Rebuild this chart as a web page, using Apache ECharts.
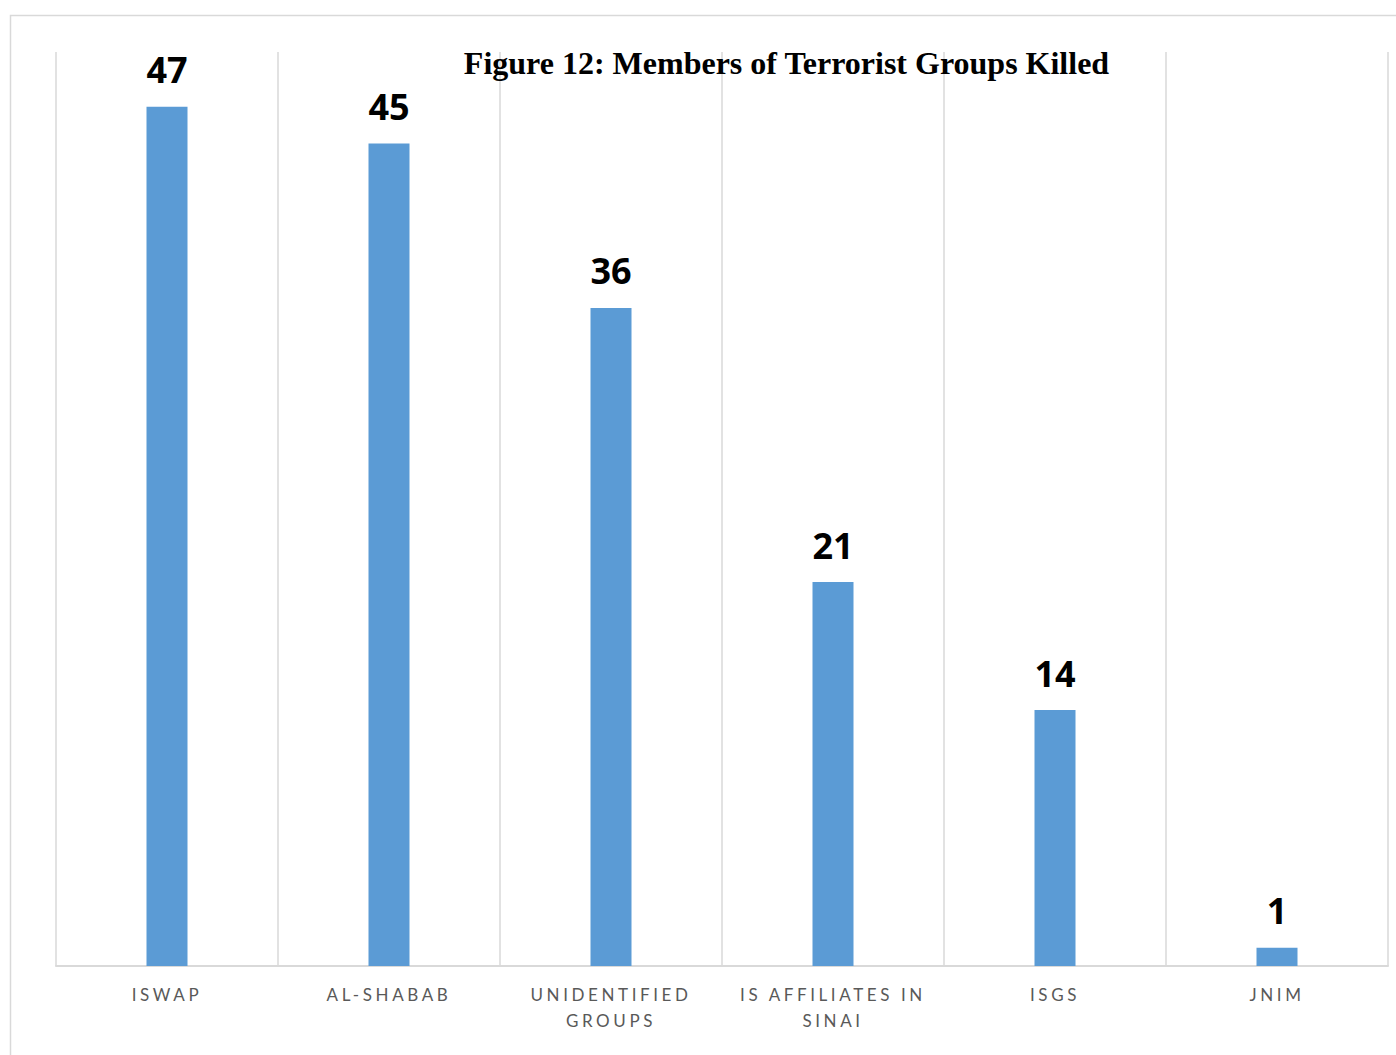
<!DOCTYPE html>
<html>
<head>
<meta charset="utf-8">
<script src="https://cdn.jsdelivr.net/npm/echarts@6/dist/echarts.min.js"></script>
<style>
html,body{margin:0;padding:0;background:#fff;}
#chart{width:1396px;height:1055px;}
#chart svg text[style*="Lato"], #chart svg text[font-family*="Lato"]{letter-spacing:3.6px;}
</style>
</head>
<body>
<div id="chart"></div>
<script>
const categories = ['ISWAP', 'AL-SHABAB', 'UNIDENTIFIED\nGROUPS', 'IS AFFILIATES IN\nSINAI', 'ISGS', 'JNIM'];
const killed = [47, 45, 36, 21, 14, 1];
const titleText = 'Figure 12: Members of Terrorist Groups Killed';

const chart = echarts.init(document.getElementById('chart'), null, {renderer: 'svg'});
chart.setOption({
  backgroundColor: '#ffffff',
  animation: false,
  graphic: [
    {type: 'rect', z: -1, shape: {x: 10.5, y: 15.5, width: 1400, height: 1050},
     style: {fill: 'none', stroke: '#d9d9d9', lineWidth: 1.5}},
    {type: 'text', z: 10, x: 786.5, y: 63,
     style: {text: titleText, font: 'bold 32px "Liberation Serif", "Times New Roman", serif',
             fill: '#000', align: 'center', verticalAlign: 'middle'}}
  ],
  grid: {left: 56, right: 8, top: 52, bottom: 89, containLabel: false},
  xAxis: {
    type: 'category',
    data: categories,
    boundaryGap: true,
    axisLine: {show: true, lineStyle: {color: '#d9d9d9', width: 2}},
    axisTick: {show: false},
    splitLine: {show: true, lineStyle: {color: '#d9d9d9', width: 1.5}},
    axisLabel: {
      interval: 0, margin: 15, color: '#595959',
      fontFamily: 'Lato', fontSize: 17, lineHeight: 26
    }
  },
  yAxis: {
    type: 'value', min: 0, max: 50, interval: 10,
    show: false,
    splitLine: {show: false}
  },
  series: [{
    type: 'bar',
    data: killed,
    barWidth: 41,
    itemStyle: {color: '#5b9bd5'},
    label: {
      show: true, position: 'top', distance: 19,
      color: '#000', fontWeight: 'bold', fontSize: 36,
      fontFamily: '"Open Sans", sans-serif'
    }
  }]
});
</script>
</body>
</html>
